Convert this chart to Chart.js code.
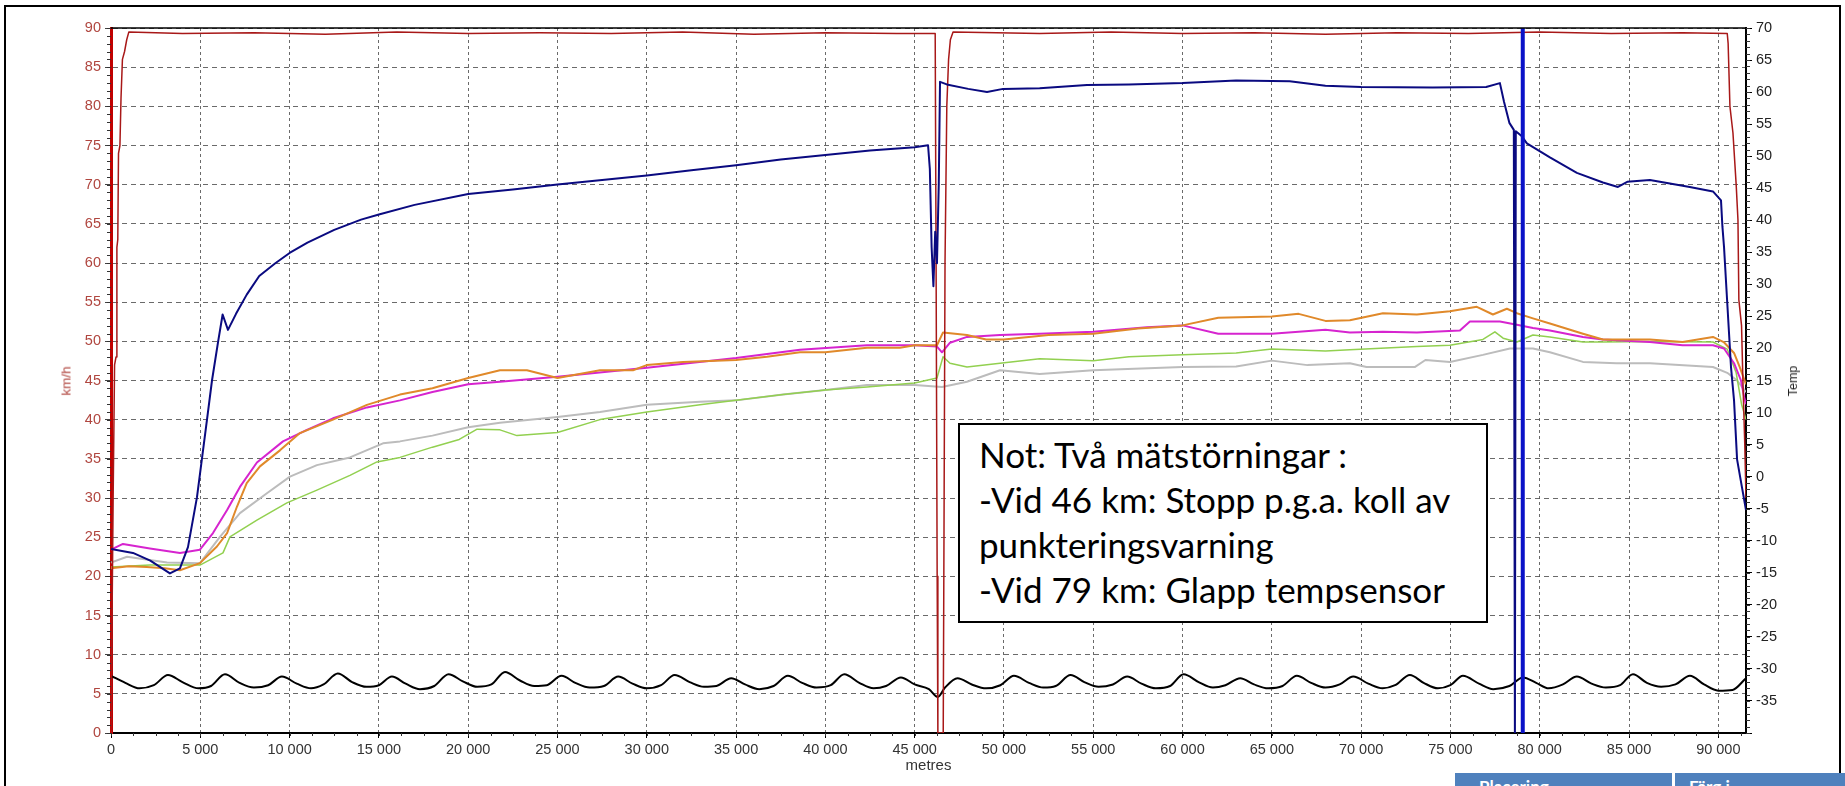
<!DOCTYPE html>
<html>
<head>
<meta charset="utf-8">
<script src="https://cdn.jsdelivr.net/npm/chart.js@4.4.0/dist/chart.umd.min.js"></script>
<style>
  html, body { margin: 0; padding: 0; background: #fff; overflow: hidden; }
  #wrap { position: relative; width: 1845px; height: 786px; overflow: hidden; }
  #chart { position: absolute; left: 0; top: 0; }
  .frame { position: absolute; left: 4px; top: 5px; width: 1833px; height: 830px; border: 2px solid #000; }
  .note {
    position: absolute; left: 958px; top: 423px; width: 530px; height: 200px;
    box-sizing: border-box; border: 2px solid #000; background: #fff;
    padding: 7px 0 0 19px; font-family: 'Lato', sans-serif; font-size: 35px;
    line-height: 45px; color: #000; white-space: nowrap;
  }
  .axis-title {
    position: absolute; top: 381px; transform: translate(-50%, -50%) rotate(-90deg);
    font-family: 'Liberation Sans', Arial, sans-serif; white-space: nowrap;
  }
  .cell {
    position: absolute; top: 773px; height: 40px; background: #4f81bd; color: #fff;
    font: bold 17px 'Lato', sans-serif; box-sizing: border-box; padding: 3px 0 0 14px;
  }
</style>
</head>
<body>
<div id="wrap">
  <div class="frame"></div>
  <canvas id="chart" width="1845" height="786"></canvas>
  <div class="note">Not: Två mätstörningar :<br>-Vid 46 km: Stopp p.g.a. koll av<br>punkteringsvarning<br>-Vid 79 km: Glapp tempsensor</div>
  <div class="axis-title" style="left:66px;color:#b0463f;font-size:13.5px;">km/h</div>
  <div class="axis-title" style="left:1793px;color:#222;font-size:12.5px;">Temp</div>
  <div class="cell" style="left:1455px;width:217px;padding-left:24px;">Placering</div>
  <div class="cell" style="left:1675px;width:170px;">Färg i</div>
</div>
<script>
// distance axis (metres)
const xMax = 91550;
const xTickValues = [0, 5000, 10000, 15000, 20000, 25000, 30000, 35000, 40000, 45000, 50000, 55000, 60000, 65000, 70000, 75000, 80000, 85000, 90000];

// speed, km/h (left axis)
const speedMetres = [0, 120, 200, 280, 330, 380, 420, 500, 560, 640, 760, 880, 1000, 4000, 8000, 12000, 16000, 20000, 24000, 28000, 32000, 36000, 40000, 44000, 46150, 46200, 46260, 46300, 46600, 46650, 46700, 46800, 46900, 47000, 47150, 52000, 56000, 60000, 64000, 68000, 72000, 76000, 80000, 84000, 88000, 90500, 90550, 90650, 90820, 91000, 91100, 91150, 91300, 91380, 91480, 91550];
const speedKmh = [0, 30, 47, 48, 62, 63, 74, 75, 81, 86, 87, 88.5, 89.5, 89.3, 89.4, 89.2, 89.5, 89.3, 89.4, 89.3, 89.5, 89.2, 89.4, 89.3, 89.3, 60, 20, 0, 0, 30, 60, 80, 86, 88.5, 89.5, 89.3, 89.5, 89.3, 89.4, 89.2, 89.4, 89.3, 89.5, 89.3, 89.4, 89.3, 88, 80, 76.6, 70, 65.5, 55.3, 52, 44.7, 37, 30];

// temperatures (right axis)
const navyMetres = [0, 1230, 2200, 3300, 3860, 4310, 4815, 5375, 5655, 6000, 6250, 6550, 7000, 7600, 8300, 9200, 10000, 11000, 12500, 14000, 15000, 17000, 20000, 22500, 25000, 27500, 30000, 32500, 35000, 37500, 40000, 42500, 45000, 45750, 45850, 45950, 46050, 46150, 46250, 46350, 46420, 46800, 48000, 49050, 49950, 52000, 54650, 57000, 60000, 63000, 66000, 68000, 70000, 74000, 77000, 77770, 78000, 78300, 78550, 78610, 78660, 79000, 79280, 80570, 82080, 83540, 84380, 84900, 86170, 88400, 89700, 90150, 90230, 90320, 90490, 90710, 90880, 91050, 91320, 91550];
const navyTemp = [-11.3, -11.9, -13.1, -15.1, -14.3, -11.0, -3.2, 8.9, 15.0, 21.1, 25.3, 22.9, 25.4, 28.4, 31.3, 33.3, 34.9, 36.5, 38.5, 40.1, 40.9, 42.4, 44.1, 44.8, 45.6, 46.3, 47.0, 47.8, 48.6, 49.5, 50.2, 50.9, 51.4, 51.7, 48.0, 35.8, 29.7, 38.2, 33.3, 45.6, 61.6, 61.2, 60.5, 60.0, 60.5, 60.6, 61.1, 61.2, 61.4, 61.8, 61.7, 61.0, 60.8, 60.7, 60.8, 61.4, 58.5, 55.2, 54.1, -40, 53.9, 53.1, 52.0, 49.8, 47.4, 45.9, 45.2, 46.0, 46.3, 45.2, 44.5, 43.1, 39.0, 35.8, 27.6, 17.1, 11.9, 2.7, -1.6, -5.2];

const glitchMetres = [79050, 79050];
const glitchTemp = [70, -40];

const orangeMetres = [0, 1000, 2000, 3000, 3860, 4980, 5930, 6500, 7050, 7600, 8340, 9460, 10580, 12430, 14330, 16180, 18000, 20000, 21780, 23290, 25000, 27380, 29230, 30000, 32030, 35000, 36730, 38580, 40000, 42330, 44180, 45000, 46250, 46590, 47930, 49000, 50000, 52500, 55000, 57500, 60000, 62000, 65000, 66500, 68000, 69370, 71220, 73120, 74970, 76480, 77380, 78160, 78720, 79620, 80570, 82420, 83540, 86170, 88000, 89700, 90300, 90880, 91200, 91550];
const orangeTemp = [-14.3, -14.0, -14.1, -14.3, -14.6, -13.5, -10.9, -8.8, -4.7, -1.0, 1.6, 4.1, 6.8, 8.9, 11.2, 12.8, 13.8, 15.4, 16.6, 16.6, 15.4, 16.6, 16.6, 17.4, 17.9, 18.2, 18.7, 19.4, 19.4, 20.1, 20.1, 20.5, 20.5, 22.5, 22.1, 21.4, 21.4, 22.1, 22.3, 23.1, 23.6, 24.8, 25.0, 25.4, 24.3, 24.4, 25.5, 25.3, 25.8, 26.5, 25.3, 26.2, 25.5, 24.7, 23.9, 22.3, 21.4, 21.4, 21.0, 21.8, 21.0, 19.3, 17.1, 14.4];

const magentaMetres = [0, 670, 2180, 3860, 4980, 5710, 6500, 7220, 8170, 9630, 10970, 12430, 14330, 16180, 18000, 20000, 21780, 25000, 30000, 35000, 38580, 42330, 45000, 46250, 46530, 46980, 47930, 49780, 52000, 55000, 58000, 60000, 62000, 65000, 68000, 69370, 71220, 73120, 75530, 76090, 77770, 78720, 79620, 80570, 82420, 83540, 86170, 88000, 89700, 90320, 90880, 91270, 91450, 91550];
const magentaTemp = [-11.4, -10.5, -11.2, -11.9, -11.4, -8.8, -5.2, -1.6, 2.2, 5.5, 7.3, 9.1, 10.8, 11.9, 13.2, 14.4, 14.8, 15.6, 17.0, 18.5, 19.8, 20.5, 20.5, 20.3, 19.4, 20.9, 21.8, 22.1, 22.3, 22.6, 23.3, 23.6, 22.3, 22.3, 22.9, 22.5, 22.6, 22.5, 22.8, 24.2, 24.2, 23.7, 23.2, 22.8, 21.8, 21.4, 21.0, 20.5, 20.5, 20.0, 17.7, 15.0, 12.4, 11.3];

const grayMetres = [0, 900, 3140, 4980, 6100, 7220, 8730, 10020, 11530, 13380, 15230, 16180, 18000, 20000, 21780, 25000, 27380, 30000, 32980, 35000, 37630, 40000, 42330, 45000, 46530, 47930, 49780, 52000, 55000, 60000, 63000, 65000, 67000, 69370, 70300, 73000, 73600, 74970, 76820, 78330, 79620, 80570, 82420, 84300, 86170, 89700, 90500, 91050, 91550];
const grayTemp = [-13.4, -12.5, -13.4, -13.5, -9.4, -5.7, -2.6, 0.0, 1.8, 3.0, 5.2, 5.5, 6.4, 7.7, 8.4, 9.3, 10.1, 11.2, 11.7, 11.9, 12.8, 13.5, 14.3, 14.3, 14.0, 14.8, 16.6, 16.0, 16.6, 17.1, 17.2, 18.1, 17.4, 17.7, 17.1, 17.1, 18.2, 17.9, 19.0, 20.0, 20.0, 19.4, 17.9, 17.7, 17.7, 17.1, 16.2, 15.0, 13.2];

const greenMetres = [0, 2180, 4980, 6270, 6660, 8170, 9850, 11530, 13380, 14890, 16180, 18000, 19500, 20500, 21780, 22730, 25000, 27380, 30000, 32980, 35000, 37630, 40000, 42330, 45000, 46250, 46590, 46980, 47930, 49780, 52000, 55000, 57000, 60000, 63000, 65000, 68000, 69370, 73120, 74970, 76820, 77490, 77950, 78720, 79620, 80570, 82420, 83540, 86170, 89700, 90500, 91000, 91300, 91550];
const greenTemp = [-14.1, -13.8, -13.8, -11.9, -9.4, -6.8, -4.1, -2.1, 0.2, 2.3, 3.0, 4.6, 5.8, 7.4, 7.3, 6.4, 6.9, 8.9, 10.1, 11.2, 11.9, 12.8, 13.5, 14.0, 14.6, 15.4, 18.7, 17.7, 17.1, 17.7, 18.4, 18.1, 18.7, 19.0, 19.3, 19.9, 19.6, 19.8, 20.3, 20.5, 21.4, 22.6, 21.6, 21.0, 22.1, 21.8, 21.0, 21.0, 21.1, 21.0, 19.9, 16.2, 11.3, 8.9];

// black trace (left axis)
const blackMetres = [0, 800, 1600, 2400, 3190, 4000, 4900, 5600, 6380, 7200, 8000, 8800, 9570, 10400, 11200, 11900, 12700, 13500, 14300, 15000, 15730, 16500, 17300, 18100, 18900, 19700, 20500, 21300, 22060, 22900, 23700, 24400, 25230, 26000, 26800, 27600, 28400, 29200, 30000, 30800, 31560, 32400, 33200, 33900, 34730, 35500, 36300, 37100, 37900, 38700, 39500, 40300, 41060, 41900, 42700, 43400, 44230, 45000, 45800, 46300, 46700, 47400, 48200, 49000, 49800, 50560, 51400, 52200, 52900, 53730, 54500, 55300, 56100, 56900, 57700, 58500, 59300, 60060, 60900, 61700, 62400, 63230, 64000, 64800, 65600, 66400, 67200, 68000, 68800, 69560, 70400, 71200, 71900, 72730, 73500, 74300, 75000, 75700, 76600, 77400, 78300, 79060, 79800, 80500, 81300, 82080, 82900, 83700, 84500, 85220, 86000, 86800, 87600, 88410, 89200, 90000, 90800, 91550];
const blackValues = [7.3, 6.4, 5.7, 6.1, 7.4, 6.5, 5.7, 6.0, 7.5, 6.4, 5.8, 6.1, 7.2, 6.3, 5.7, 6.2, 7.6, 6.5, 5.9, 6.1, 7.2, 6.3, 5.6, 6.0, 7.5, 6.6, 5.9, 6.2, 7.8, 6.7, 6.0, 6.1, 7.3, 6.4, 5.8, 6.0, 7.2, 6.3, 5.7, 6.1, 7.4, 6.5, 5.9, 6.0, 7.0, 6.2, 5.6, 6.0, 7.3, 6.4, 5.8, 6.1, 7.5, 6.4, 5.7, 6.0, 7.1, 6.2, 5.6, 4.6, 5.8, 7.0, 6.2, 5.7, 6.1, 7.3, 6.4, 5.8, 6.0, 7.4, 6.5, 5.9, 6.2, 7.2, 6.3, 5.7, 6.0, 7.5, 6.5, 5.8, 6.1, 7.0, 6.2, 5.7, 6.0, 7.3, 6.4, 5.8, 6.2, 7.2, 6.3, 5.7, 6.1, 7.4, 6.4, 5.7, 6.1, 7.3, 6.3, 5.6, 6.0, 7.1, 6.4, 5.7, 6.2, 7.2, 6.3, 5.8, 6.1, 7.5, 6.4, 5.9, 6.2, 7.3, 6.2, 5.4, 5.5, 7.0];

function points(xs, ys) {
  return xs.map((x, i) => ({ x: x, y: ys[i] }));
}

const fontFamily = "'Liberation Sans', Arial, sans-serif";
const tickFont = { family: fontFamily, size: 14.5 };
const gridColor = 'rgba(80, 80, 80, 0.85)';

// top frame line and minor tick marks
const axisExtras = {
  id: 'axisExtras',
  afterDraw(chart) {
    const { ctx, chartArea, scales } = chart;
    ctx.save();
    ctx.strokeStyle = '#000';
    ctx.lineWidth = 1.5;
    ctx.beginPath();
    ctx.moveTo(chartArea.left, chartArea.top);
    ctx.lineTo(chartArea.right, chartArea.top);
    ctx.stroke();

    ctx.lineWidth = 1;
    ctx.strokeStyle = '#333';
    ctx.beginPath();
    for (let v = scales.y.min; v <= scales.y.max; v += 1) {
      const py = Math.round(scales.y.getPixelForValue(v)) + 0.5;
      ctx.moveTo(chartArea.left - 4, py);
      ctx.lineTo(chartArea.left, py);
    }
    for (let v = scales.y1.min; v <= scales.y1.max; v += 1) {
      const py = Math.round(scales.y1.getPixelForValue(v)) + 0.5;
      ctx.moveTo(chartArea.right, py);
      ctx.lineTo(chartArea.right + 4, py);
    }
    for (let v = 0; v <= scales.x.max; v += 1250) {
      const px = Math.round(scales.x.getPixelForValue(v)) + 0.5;
      ctx.moveTo(px, chartArea.bottom);
      ctx.lineTo(px, chartArea.bottom + 3);
    }
    ctx.stroke();
    ctx.restore();
  }
};

new Chart(document.getElementById('chart'), {
  type: 'line',
  data: {
    datasets: [
      { label: 'glitch', data: points(glitchMetres, glitchTemp), yAxisID: 'y1', borderColor: '#0a12c8', borderWidth: 4 },
      { label: 'navy', data: points(navyMetres, navyTemp), yAxisID: 'y1', borderColor: '#0a0a80', borderWidth: 2 },
      { label: 'speed', data: points(speedMetres, speedKmh), yAxisID: 'y', borderColor: '#a81818', borderWidth: 1.5 },
      { label: 'black', data: points(blackMetres, blackValues), yAxisID: 'y', borderColor: '#000', borderWidth: 2, cubicInterpolationMode: 'monotone' },
      { label: 'orange', data: points(orangeMetres, orangeTemp), yAxisID: 'y1', borderColor: '#e0892a', borderWidth: 2 },
      { label: 'magenta', data: points(magentaMetres, magentaTemp), yAxisID: 'y1', borderColor: '#d624cf', borderWidth: 2 },
      { label: 'green', data: points(greenMetres, greenTemp), yAxisID: 'y1', borderColor: '#92d050', borderWidth: 1.5 },
      { label: 'gray', data: points(grayMetres, grayTemp), yAxisID: 'y1', borderColor: '#bcbcbc', borderWidth: 2 }
    ]
  },
  options: {
    responsive: false,
    animation: false,
    layout: { padding: { top: 28, left: 0, right: 0, bottom: 0 } },
    elements: { point: { radius: 0 }, line: { tension: 0, borderJoinStyle: 'round' } },
    plugins: { legend: { display: false }, tooltip: { enabled: false } },
    scales: {
      x: {
        type: 'linear', min: 0, max: xMax,
        afterFit: s => { s.height = 53; },
        afterBuildTicks: s => { s.ticks = xTickValues.map(v => ({ value: v })); },
        ticks: {
          autoSkip: false, maxRotation: 0, padding: 3,
          color: '#333', font: tickFont,
          callback: v => String(v).replace(/\B(?=(\d{3})+(?!\d))/g, ' ')
        },
        grid: { color: gridColor, lineWidth: 1, tickLength: 5, tickColor: '#000' },
        border: { color: '#000', width: 2, dash: [3, 3] },
        title: { display: true, text: 'metres', color: '#333', font: { family: fontFamily, size: 15 }, padding: { top: 0, bottom: 11 } }
      },
      y: {
        position: 'left', min: 0, max: 90,
        afterFit: s => { s.width = 111; },
        ticks: { stepSize: 5, padding: 4, color: '#b0463f', font: tickFont },
        grid: { color: gridColor, lineWidth: 1, tickLength: 6, tickColor: '#444' },
        border: { color: '#c00000', width: 3, dash: [5, 4] }
      },
      y1: {
        position: 'right', min: -40, max: 70,
        afterFit: s => { s.width = 99; },
        ticks: {
          stepSize: 5, padding: 4, color: '#222', font: tickFont,
          callback: v => (v === -40 ? '' : v)
        },
        grid: { drawOnChartArea: false, tickLength: 6, tickColor: '#000' },
        border: { color: '#000', width: 2 }
      }
    }
  },
  plugins: [axisExtras]
});
</script>
</body>
</html>
